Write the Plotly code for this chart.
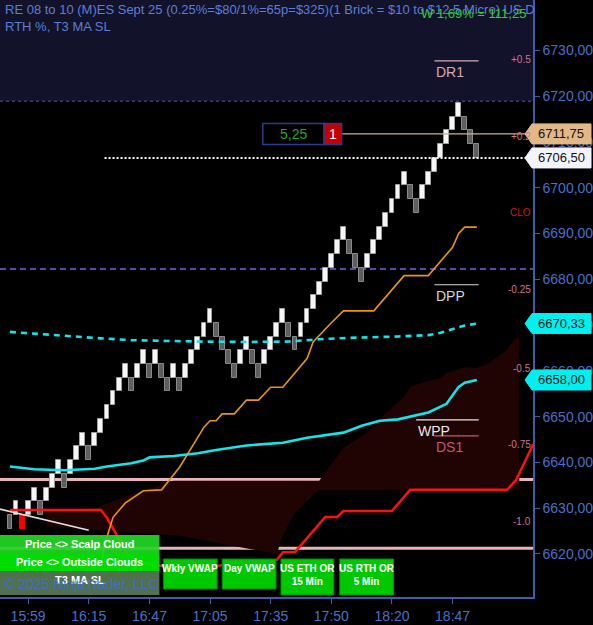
import plotly.graph_objects as go

# ---- renko bricks (prices) ----
brick_open = [6628.5, 6628.5, 6628.5, 6628.5, 6631.5, 6631.5, 6631.5, 6634.5, 6637.5, 6637.5,
              6637.5, 6640.5, 6643.5, 6643.5, 6643.5, 6646.5, 6649.5, 6652.5, 6655.5, 6658.5,
              6658.5, 6658.5, 6661.5, 6661.5, 6661.5, 6661.5, 6658.5, 6658.5, 6658.5, 6658.5,
              6661.5, 6664.5, 6667.5, 6670.5, 6670.5, 6667.5, 6664.5, 6661.5, 6661.5, 6664.5,
              6664.5, 6661.5, 6661.5, 6664.5, 6667.5, 6670.5, 6670.5, 6667.5, 6667.5, 6670.5,
              6673.5, 6676.5, 6679.5, 6682.5, 6685.5, 6688.5, 6688.5, 6685.5, 6682.5, 6682.5,
              6685.5, 6688.5, 6691.5, 6694.5, 6697.5, 6700.5, 6700.5, 6697.5, 6697.5, 6700.5,
              6703.5, 6706.5, 6709.5, 6712.5, 6715.5, 6715.5, 6712.5, 6709.5]
brick_close = [6625.5, 6631.5, 6625.5, 6631.5, 6634.5, 6628.5, 6634.5, 6637.5, 6640.5, 6634.5,
               6640.5, 6643.5, 6646.5, 6640.5, 6646.5, 6649.5, 6652.5, 6655.5, 6658.5, 6661.5,
               6655.5, 6661.5, 6664.5, 6658.5, 6664.5, 6658.5, 6655.5, 6661.5, 6655.5, 6661.5,
               6664.5, 6667.5, 6670.5, 6673.5, 6667.5, 6664.5, 6661.5, 6658.5, 6664.5, 6667.5,
               6661.5, 6658.5, 6664.5, 6667.5, 6670.5, 6673.5, 6667.5, 6664.5, 6670.5, 6673.5,
               6676.5, 6679.5, 6682.5, 6685.5, 6688.5, 6691.5, 6685.5, 6682.5, 6679.5, 6685.5,
               6688.5, 6691.5, 6694.5, 6697.5, 6700.5, 6703.5, 6697.5, 6694.5, 6700.5, 6703.5,
               6706.5, 6709.5, 6712.5, 6715.5, 6718.5, 6712.5, 6709.5, 6706.5]
signal_bars = [2]

time_tick_bars = [3, 13, 23, 33, 43, 53, 63, 73]
time_tick_text = ["15:59", "16:15", "16:47", "17:05", "17:35", "17:50", "18:20", "18:47"]
price_ticks = [6620, 6630, 6640, 6650, 6660, 6670, 6680, 6690, 6700, 6710, 6720, 6730]

# ---- indicator lines (bar index, price) ----
vwap_dash_x = [0, 2, 7, 10, 15, 20, 26, 31, 39, 46, 51, 56, 64, 69, 71, 73, 75, 77]
vwap_dash_y = [6668.5, 6668.3, 6667.8, 6667.5, 6667.1, 6666.7, 6666.5, 6666.4, 6666.3, 6666.4,
               6666.9, 6667.2, 6667.5, 6667.8, 6668.3, 6669.1, 6669.9, 6670.33]
vwap_x = [0, 4, 9, 14, 16, 20, 22, 23, 27, 31, 34, 37, 39, 45, 49, 55, 58, 61, 64, 69, 72, 74, 75, 77]
vwap_y = [6639.1, 6638.5, 6638.3, 6638.6, 6639.1, 6639.8, 6640.4, 6641.1, 6641.4, 6642.0, 6642.7,
          6643.3, 6643.7, 6644.3, 6645.4, 6646.5, 6648.0, 6649.1, 6649.4, 6650.9, 6652.8, 6656.5,
          6657.4, 6658.0]
t3_x = [15, 16, 17, 19, 22, 25, 28, 31, 32, 33, 34, 35, 37, 39, 41, 43, 45, 49, 50, 53, 55, 60,
        65, 69, 73, 74, 75, 77]
t3_y = [6618.0, 6623.7, 6628.0, 6631.1, 6633.8, 6634.0, 6639.0, 6645.3, 6647.7, 6649.1, 6649.1,
        6650.6, 6650.6, 6653.6, 6653.6, 6656.4, 6656.4, 6662.7, 6666.3, 6670.5, 6673.1, 6673.1,
        6680.8, 6680.8, 6687.0, 6690.0, 6691.4, 6691.4]
stop_x = [0, 15, 16, 17.6, 20, 24, 34, 44, 45, 47, 52, 54, 55, 63, 66, 82, 83.5, 86.3]
stop_y = [6629.6, 6629.6, 6627.9, 6624.2, 6618.5, 6617.4, 6617.4, 6618.7, 6620.4, 6620.4, 6628.1,
          6628.1, 6629.4, 6629.4, 6634.0, 6634.0, 6636.2, 6644.0]
cloud_top_x = [6, 14, 20, 27, 51, 55, 59, 62, 65, 66, 68, 71, 72, 75, 77, 79, 82, 83, 84]
cloud_top_y = [6629.6, 6630.0, 6633.0, 6636.0, 6636.0, 6643.2, 6646.6, 6650.8, 6654.3, 6656.5,
               6657.4, 6658.4, 6659.5, 6660.8, 6660.6, 6661.7, 6664.6, 6666.7, 6667.8]
cloud_bot_x = [6, 16, 28, 40, 44, 45, 47, 51, 84]
cloud_bot_y = [6626.0, 6625.0, 6624.0, 6621.0, 6620.0, 6624.0, 6629.0, 6634.0, 6634.0]
trend_x = [-2, 13]
trend_y = [6629.9, 6625.2]

# horizontal levels
level_pink = [6636.25, 6621.25]
level_dpp_dash = 6682.25
level_top_zone = 6718.9
last_price = 6706.50
entry_price = 6711.75
pivot_names = ["DR1", "DPP", "WPP", "DS1"]
pivot_prices = [6727.7, 6678.8, 6649.3, 6645.8]
pivot_start = [70, 70, 67, 70]
pivot_colors = ["#d8aab0", "#d8d8d8", "#e8e8e8", "#c45a7c"]
pct_labels = ["+0.5", "+0.2", "CLO", "-0.25", "-0.5", "-0.75", "-1.0"]
pct_prices = [6728.1, 6711.1, 6694.5, 6677.7, 6660.6, 6644.0, 6627.2]
tag_prices = [6711.75, 6706.50, 6670.33, 6658.00]
tag_colors = ["#e2b887", "#f4f4ff", "#00f0f0", "#00f0f0"]

FONT = "Liberation Sans, Arial, sans-serif"
BLUE = "#4a70c8"
W, H = 593, 625
PLOT_R, PLOT_B = 535, 597


def px_x(p):
    return p / PLOT_R


def px_y(p):
    return (PLOT_B - p) / PLOT_B


n = len(brick_open)
bars = list(range(n))
colors, lines = [], []
for i, (o, c) in enumerate(zip(brick_open, brick_close)):
    if i in signal_bars:
        colors.append("#ff0000"); lines.append("#ff0000")
    elif c > o:
        colors.append("#f6f6f6"); lines.append("#a0a0a0")
    else:
        colors.append("#5e5e5e"); lines.append("#8a8a8a")

fig = go.Figure()
# cloud
fig.add_trace(go.Scatter(x=cloud_top_x + cloud_bot_x[::-1], y=cloud_top_y + cloud_bot_y[::-1],
                         fill="toself", fillcolor="#200303", line=dict(width=0), mode="lines",
                         hoverinfo="skip"))
fig.add_trace(go.Scatter(x=stop_x, y=stop_y, mode="lines", line=dict(color="#ff1010", width=2.5)))
fig.add_trace(go.Scatter(x=t3_x, y=t3_y, mode="lines", line=dict(color="#e8960a", width=1.6)))
fig.add_trace(go.Scatter(x=vwap_x, y=vwap_y, mode="lines", line=dict(color="#12e6ea", width=2.6)))
fig.add_trace(go.Scatter(x=vwap_dash_x, y=vwap_dash_y, mode="lines",
                         line=dict(color="#12e6ea", width=2.6, dash="6px,5px")))
fig.add_trace(go.Scatter(x=trend_x, y=trend_y, mode="lines", line=dict(color="#e0e0e0", width=1.6)))
fig.add_trace(go.Bar(x=bars, base=[min(o, c) for o, c in zip(brick_open, brick_close)],
                     y=[abs(c - o) for o, c in zip(brick_open, brick_close)], width=0.8,
                     marker=dict(color=colors, line=dict(color=lines, width=1))))

shapes = []
# upper zone band
shapes.append(dict(type="rect", xref="paper", x0=0, x1=1, yref="y", y0=level_top_zone, y1=6745,
                   fillcolor="#12122a", line_width=0, layer="below"))
shapes.append(dict(type="line", xref="paper", x0=0, x1=1, yref="y", y0=level_top_zone, y1=level_top_zone,
                   line=dict(color="#5a4fb0", width=1, dash="dot"), layer="below"))
for lv in level_pink:
    shapes.append(dict(type="line", xref="paper", x0=0, x1=1, yref="y", y0=lv, y1=lv,
                       line=dict(color="#e8b4ba", width=3), layer="below"))
shapes.append(dict(type="line", xref="paper", x0=0, x1=1, yref="y", y0=level_dpp_dash, y1=level_dpp_dash,
                   line=dict(color="#7466d8", width=1.5, dash="6px,4px"), layer="below"))
shapes.append(dict(type="line", xref="x", x0=15.6, x1=86.3, yref="y", y0=last_price, y1=last_price,
                   line=dict(color="#ffffff", width=2, dash="2px,2px")))
shapes.append(dict(type="line", xref="x", x0=54.7, x1=86.3, yref="y", y0=entry_price, y1=entry_price,
                   line=dict(color="#d4b08a", width=1.2)))
# pivot lines
for name, p, s, col in zip(pivot_names, pivot_prices, pivot_start, pivot_colors):
    shapes.append(dict(type="line", xref="x", x0=s, x1=77.3, yref="y", y0=p, y1=p,
                       line=dict(color=col, width=1.2)))

# position box 5,25 | 1
shapes.append(dict(type="rect", xref="x", x0=41.7, x1=51.8, yref="y", y0=entry_price - 2.3,
                   y1=entry_price + 2.3, fillcolor="#000000", line=dict(color="#2a3c8c", width=1.5)))
shapes.append(dict(type="rect", xref="x", x0=51.8, x1=54.7, yref="y", y0=entry_price - 2.3,
                   y1=entry_price + 2.3, fillcolor="#c40000", line=dict(color="#2a3c8c", width=1.5)))

# price tags on the axis
for p, col in zip(tag_prices, tag_colors):
    shapes.append(dict(type="path", xref="paper", xanchor=1, xsizemode="pixel", yref="y", yanchor=p,
                       ysizemode="pixel", path="M -8,0 L -1,10 L 58,10 L 58,-10 L -1,-10 Z",
                       fillcolor=col, line=dict(color=col, width=1)))

# legend buttons bottom-left
buttons = [("Price <> Scalp Cloud", 535, 553, "rgba(34,214,34,0.93)"),
           ("Price <> Outside Clouds", 553, 571, "rgba(0,232,0,0.95)"),
           ("T3 MA SL", 571, 595, "rgba(100,140,100,0.8)")]
for text, y0, y1, col in buttons:
    shapes.append(dict(type="rect", xref="paper", yref="paper", x0=0, x1=px_x(160), y0=px_y(y1),
                       y1=px_y(y0), fillcolor=col, line_width=0, layer="above"))
boxes = [("Wkly VWAP", 164, 218, 559, 589), ("Day VWAP", 223, 277, 559, 589),
         ("US ETH OR<br>15 Min", 282, 335, 559, 595), ("US RTH OR<br>5 Min", 341, 395, 559, 595)]
for text, x0, x1, y0, y1 in boxes:
    shapes.append(dict(type="rect", xref="paper", yref="paper", x0=px_x(x0), x1=px_x(x1), y0=px_y(y1),
                       y1=px_y(y0), fillcolor="#00c800", line=dict(color="#008a00", width=1), layer="above"))

ann = []
ann.append(dict(xref="paper", yref="paper", x=px_x(3), y=1, xanchor="left", yanchor="top", align="left",
                text="RE 08 to 10 (M)ES Sept 25 (0.25%=$80/1%=65p=$325)(1 Brick = $10 to $12.5 Micro) US D"
                     "<br>RTH %, T3 MA SL", showarrow=False, font=dict(family=FONT, size=13, color="#5b7fd6")))
ann.append(dict(xref="paper", yref="paper", x=px_x(530), y=px_y(13), xanchor="right", yanchor="middle",
                text="W 1,69% = 111,25", showarrow=False,
                font=dict(family=FONT, size=13, color="#36cc36")))
for name, p, s, col in zip(pivot_names, pivot_prices, pivot_start, pivot_colors):
    ann.append(dict(xref="x", yref="y", x=s - 0.1, y=p, xanchor="left", yanchor="top", yshift=-1,
                    text=name, showarrow=False, font=dict(family=FONT, size=14, color=col)))
for t, p in zip(pct_labels, pct_prices):
    ann.append(dict(xref="paper", yref="y", x=1, y=p, xanchor="right", yanchor="middle", text=t,
                    showarrow=False,
                    font=dict(family=FONT, size=10, color="#d01818" if t == "CLO" else "#c87890")))
for p, col in zip(tag_prices, tag_colors):
    ann.append(dict(xref="paper", yref="y", x=1, y=p, xanchor="left", yanchor="middle", xshift=3,
                    text=f"{p:.2f}".replace(".", ","), showarrow=False,
                    font=dict(family=FONT, size=13, color="#111111")))
ann.append(dict(xref="x", yref="y", x=46.75, y=entry_price, text="5,25", showarrow=False,
                font=dict(family=FONT, size=14, color="#24a824")))
ann.append(dict(xref="x", yref="y", x=53.25, y=entry_price, text="1", showarrow=False,
                font=dict(family=FONT, size=14, color="#ffffff")))
for text, y0, y1, col in buttons:
    ann.append(dict(xref="paper", yref="paper", x=px_x(80), y=px_y(y0 + 9), xanchor="center",
                    yanchor="middle", text=f"<b>{text}</b>", showarrow=False,
                    font=dict(family=FONT, size=11, color="#ffffff")))
ann.append(dict(xref="paper", yref="paper", x=px_x(2), y=px_y(584), xanchor="left", yanchor="middle",
                text="© 2025 NinjaTrader, LLC", showarrow=False,
                font=dict(family=FONT, size=14, color="rgba(64,110,215,0.85)")))
for text, x0, x1, y0, y1 in boxes:
    ann.append(dict(xref="paper", yref="paper", x=px_x((x0 + x1) / 2), y=px_y(y0 + 2), xanchor="center",
                    yanchor="top", text=f"<b>{text}</b>", showarrow=False,
                    font=dict(family=FONT, size=10, color="#ffffff")))

fig.update_layout(
    width=W, height=H, margin=dict(l=0, r=W - PLOT_R, t=0, b=H - PLOT_B, pad=0),
    paper_bgcolor="#000000", plot_bgcolor="#000000", showlegend=False, hovermode=False,
    bargap=0, shapes=shapes, annotations=ann,
    xaxis=dict(range=[-1.64, 86.26], showgrid=False, zeroline=False, showline=True, linecolor="#3e5ea8",
               linewidth=1.5, ticks="outside", ticklen=5, tickcolor="#3e5ea8", tickvals=time_tick_bars,
               ticktext=time_tick_text, tickfont=dict(family=FONT, size=14, color=BLUE)),
    yaxis=dict(range=[6610.6, 6741.0], side="right", showgrid=False, zeroline=False, showline=True,
               linecolor="#3e5ea8", linewidth=1.5, ticks="outside", ticklen=5, tickcolor="#3e5ea8",
               tickvals=price_ticks, ticktext=[f"{v:.2f}".replace(".", ",") for v in price_ticks],
               tickfont=dict(family=FONT, size=14, color=BLUE)),
)
# page has an 8px body margin by default; drop it so the chart fills the window
fig.write_html("out.html", config={"displayModeBar": False},
               post_script="document.body.style.margin='0';document.body.style.background='#000';")
